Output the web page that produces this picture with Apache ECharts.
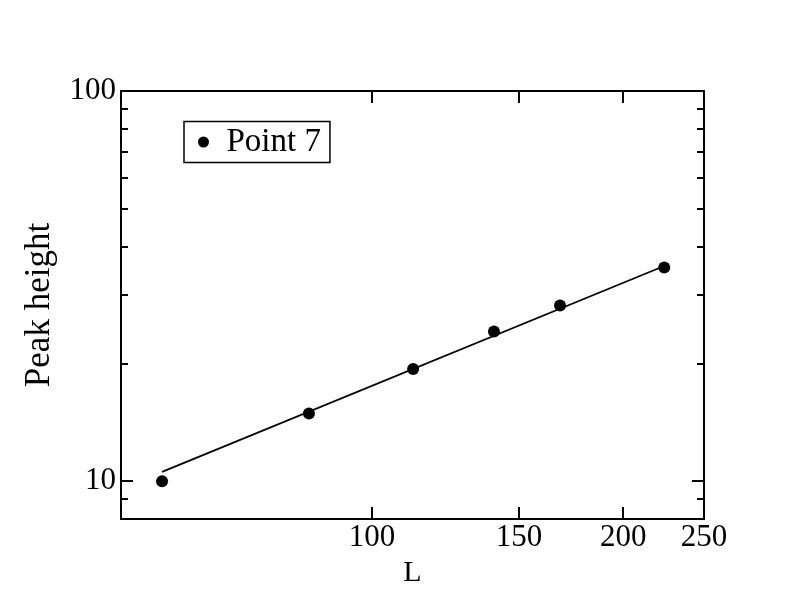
<!DOCTYPE html>
<html>
<head>
<meta charset="utf-8">
<script src="https://cdn.jsdelivr.net/npm/echarts@6/dist/echarts.min.js"></script>
<style>
  html, body { margin: 0; padding: 0; background: #fff; }
  #chart { width: 792px; height: 612px; }
</style>
</head>
<body>
<div id="chart"></div>
<script>
// ---- data ----
const L = [56, 84, 112, 140, 168, 224];
const peakHeight = [10.0, 14.9, 19.4, 24.2, 28.2, 35.3];
const fitL = [56, 224];
const fitPeak = [10.56, 35.6];
const xTickLabels = [100, 150, 200, 250];
const yTickLabels = [10, 100];
const yMinorTicks = [9, 20, 30, 40, 50, 60, 70, 80, 90];

const FONT = 'Liberation Serif';
const black = '#000';

const chart = echarts.init(document.getElementById('chart'), null, { renderer: 'canvas' });

const xBase = {
  type: 'log', logBase: 10, min: 50, max: 250,
  splitLine: { show: false },
  axisLine: { show: true, lineStyle: { color: black, width: 2 } }
};
const yBase = {
  type: 'log', logBase: 10, min: 8, max: 100,
  splitLine: { show: false },
  axisLine: { show: true, lineStyle: { color: black, width: 2 } }
};

const option = {
  backgroundColor: '#fff',
  animation: false,
  grid: { left: 121, right: 88, top: 91, bottom: 93, containLabel: false },
  legend: {
    data: ['Point 7'],
    left: 184, top: 121.5,
    orient: 'vertical',
    padding: [4, 9, 4, 14],
    borderColor: black, borderWidth: 1.5,
    itemWidth: 36, itemHeight: 11,
    textStyle: { fontFamily: FONT, fontSize: 33, color: black, lineHeight: 30 }
  },
  xAxis: [
    Object.assign({}, xBase, {
      position: 'bottom',
      name: 'L', nameLocation: 'middle', nameGap: 35,
      nameTextStyle: { fontFamily: FONT, fontSize: 30, color: black },
      axisTick: { show: true, inside: true, length: 12, customValues: xTickLabels,
                  lineStyle: { color: black, width: 2 } },
      axisLabel: { show: true, customValues: xTickLabels, margin: 3,
                   fontFamily: FONT, fontSize: 31, color: black,
                   formatter: v => String(Math.round(v)) }
    }),
    Object.assign({}, xBase, {
      position: 'top',
      axisTick: { show: true, inside: true, length: 12, customValues: xTickLabels,
                  lineStyle: { color: black, width: 2 } },
      axisLabel: { show: false }
    })
  ],
  yAxis: [
    Object.assign({}, yBase, {
      position: 'left',
      name: 'Peak height', nameLocation: 'middle', nameGap: 64,
      nameTextStyle: { fontFamily: FONT, fontSize: 35, color: black },
      axisTick: { show: true, inside: true, length: 12, customValues: yTickLabels,
                  lineStyle: { color: black, width: 2 } },
      axisLabel: { show: true, customValues: yTickLabels, margin: 5,
                   fontFamily: FONT, fontSize: 31, color: black,
                   formatter: v => String(Math.round(v)) }
    }),
    Object.assign({}, yBase, {
      position: 'left',
      axisLine: { show: false },
      axisTick: { show: true, inside: true, length: 7, customValues: yMinorTicks,
                  lineStyle: { color: black, width: 2 } },
      axisLabel: { show: false }
    }),
    Object.assign({}, yBase, {
      position: 'right',
      axisTick: { show: true, inside: true, length: 12, customValues: yTickLabels,
                  lineStyle: { color: black, width: 2 } },
      axisLabel: { show: false }
    }),
    Object.assign({}, yBase, {
      position: 'right',
      axisLine: { show: false },
      axisTick: { show: true, inside: true, length: 7, customValues: yMinorTicks,
                  lineStyle: { color: black, width: 2 } },
      axisLabel: { show: false }
    })
  ],
  series: [
    {
      name: 'fit', type: 'line',
      xAxisIndex: 0, yAxisIndex: 0,
      data: fitL.map((x, i) => [x, fitPeak[i]]),
      showSymbol: false, symbol: 'none',
      lineStyle: { color: black, width: 1.8 },
      silent: true
    },
    {
      name: 'Point 7', type: 'scatter',
      xAxisIndex: 0, yAxisIndex: 0,
      data: L.map((x, i) => [x, peakHeight[i]]),
      symbol: 'circle', symbolSize: 12,
      itemStyle: { color: black, opacity: 1 }
    }
  ]
};

chart.setOption(option);
</script>
</body>
</html>
